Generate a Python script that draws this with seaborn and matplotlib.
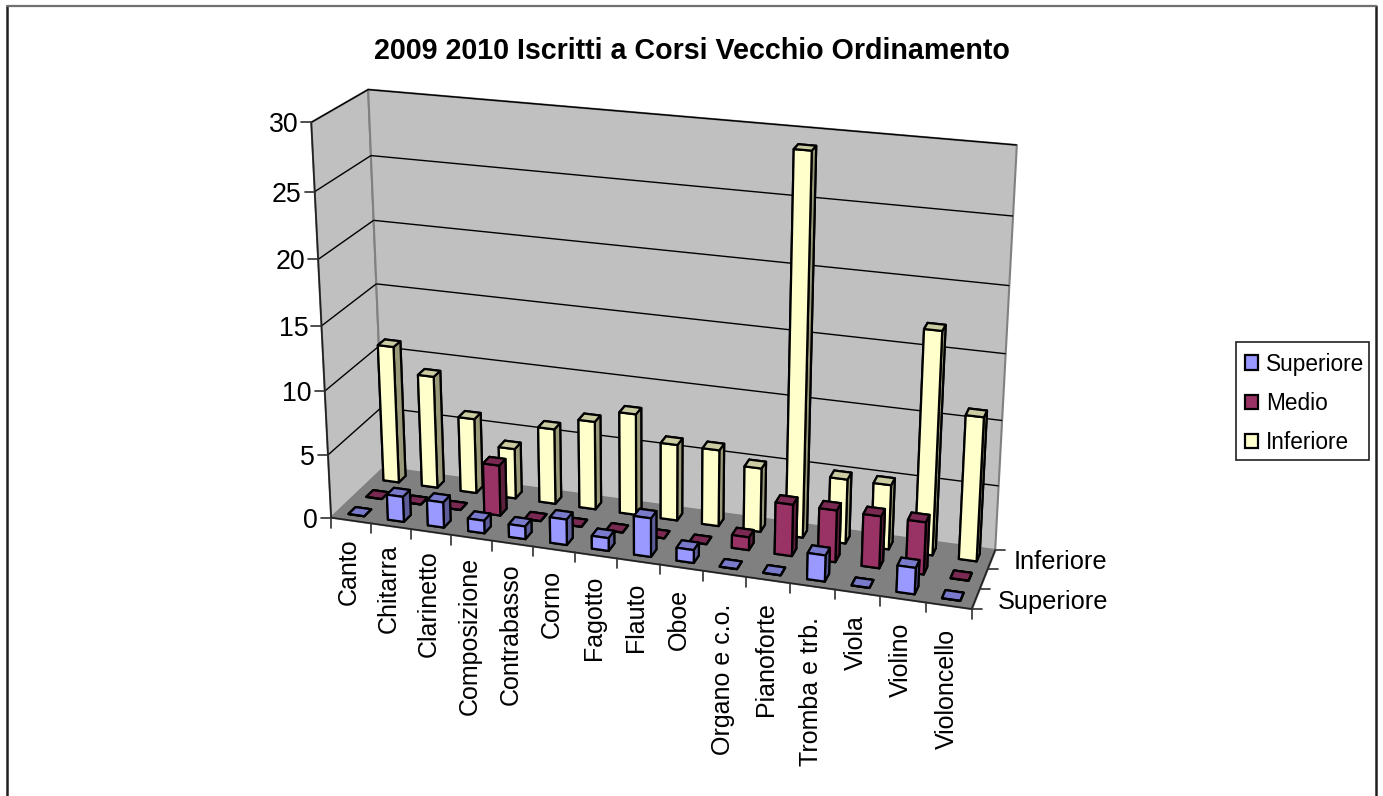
import numpy as np
import matplotlib
matplotlib.use("Agg")
import matplotlib.pyplot as plt
from matplotlib.patches import Patch, Rectangle
from mpl_toolkits.mplot3d.art3d import Poly3DCollection, Line3DCollection
import seaborn as sns

categories = ["Canto", "Chitarra", "Clarinetto", "Composizione", "Contrabasso", "Corno",
              "Fagotto", "Flauto", "Oboe", "Organo e c.o.", "Pianoforte", "Tromba e trb.",
              "Viola", "Violino", "Violoncello"]
superiore = [0, 2, 2, 1, 1, 2, 1, 3, 1, 0, 0, 2, 0, 2, 0]
medio = [0, 0, 0, 4, 0, 0, 0, 0, 0, 1, 4, 4, 4, 4, 0]
inferiore = [11, 9, 6, 4, 6, 7, 8, 6, 6, 5, 29, 5, 5, 17, 11]
series_names = ["Superiore", "Medio", "Inferiore"]
series_values = [superiore, medio, inferiore]
z_ticks = [0, 5, 10, 15, 20, 25, 30]
title = "2009 2010 Iscritti a Corsi Vecchio Ordinamento"

W, H = 1383, 796
sns.set_theme(style="white", font="Liberation Sans")
palette = sns.color_palette(["#9999FF", "#993366", "#FFFFCC"])

# camera fitted to the corners of the reference box (data space -> pixels)
NX, NY, NZ = len(categories), len(series_names), 30
world = np.array([[0, 0, 0], [0, 0, NZ], [0, NY, 0], [0, NY, NZ],
                  [NX, NY, 0], [NX, NY, NZ], [NX, 0, 0]], float)
pix = np.array([[332, 517], [310, 123], [383, 468], [369.5, 89],
                [995, 550], [1016.7, 145], [972, 609]], float)
rows = []
for (X, Y, Z), (u, v) in zip(world, pix):
    rows.append([X, Y, Z, 1, 0, 0, 0, 0, -u * X, -u * Y, -u * Z, -u])
    rows.append([0, 0, 0, 0, X, Y, Z, 1, -v * X, -v * Y, -v * Z, -v])
P = np.linalg.svd(np.array(rows))[2][-1].reshape(3, 4)
if P[2] @ np.array([NX / 2, NY / 2, 15, 1]) < 0:
    P = -P
P = P / (P[2] @ np.array([NX / 2, NY / 2, 15, 1]))


def to_pixels(x, y, z):
    q = P @ np.array([x, y, z, 1.0])
    return q[0] / q[2], q[1] / q[2]


fig = plt.figure(figsize=(W / 100, H / 100), dpi=100, facecolor="white")
ax = fig.add_axes([0, 0, 1, 1], projection="3d", computed_zorder=False)
ax.set_axis_off()
ax.patch.set_visible(False)
ax.apply_aspect = lambda position=None: None


def get_proj():
    pix4 = np.array([
        P[0],
        H * P[2] - P[1],
        P[2] - np.array([0, 0, 0, 0.5]),
        P[2],
    ])
    T = ax.transData.inverted().get_matrix()
    A = np.array([[T[0, 0], T[0, 1], 0, T[0, 2]],
                  [T[1, 0], T[1, 1], 0, T[1, 2]],
                  [0, 0, 1, 0],
                  [0, 0, 0, 1]])
    return A @ pix4


ax.get_proj = get_proj

# walls and floor
GREY = "#808080"
left = [(0, 0, 0), (0, NY, 0), (0, NY, NZ), (0, 0, NZ)]
back = [(0, NY, 0), (NX, NY, 0), (NX, NY, NZ), (0, NY, NZ)]
floor = [(0, 0, 0), (NX, 0, 0), (NX, NY, 0), (0, NY, 0)]
ax.add_collection3d(Poly3DCollection([left, back], facecolors="#C0C0C0", edgecolors=GREY,
                                     linewidths=1.5, zorder=1))
ax.add_collection3d(Poly3DCollection([floor], facecolors=GREY, edgecolors=GREY,
                                     linewidths=1, zorder=2))

# gridlines
grid = []
for z in z_ticks[1:]:
    grid.append([(0, 0, z), (0, NY, z)])
    grid.append([(0, NY, z), (NX, NY, z)])
ax.add_collection3d(Line3DCollection(grid, colors="black", linewidths=1.0, zorder=3))

# axis lines and ticks
axes_lines = [[(0, 0, 0), (0, 0, NZ)], [(0, 0, 0), (NX, 0, 0)], [(NX, 0, 0), (NX, NY, 0)]]
ax.add_collection3d(Line3DCollection(axes_lines, colors="#202020", linewidths=1.2, zorder=4))

tr = fig.transFigure
for z in z_ticks:
    u, v = to_pixels(0, 0, z)
    fig.add_artist(plt.Line2D([(u - 10) / W, u / W], [1 - v / H, 1 - v / H], color="#303030", lw=1.2))
    fig.text((u - 13) / W, 1 - v / H, str(z), ha="right", va="center_baseline", fontsize=19.3, color="black")

for i in range(NX + 1):
    u, v = to_pixels(i, 0, 0)
    fig.add_artist(plt.Line2D([u / W, u / W], [1 - v / H, 1 - (v + 10) / H], color="#303030", lw=1.2))
for i, name in enumerate(categories):
    u, v = to_pixels(i + 0.5, 0, 0)
    nudge = 8 if name.endswith(".") else 0
    fig.text((u - 2) / W, 1 - (v + 18 + 0.4 * i + nudge) / H, name, rotation=90, ha="center", va="top",
             fontsize=18, color="black")

for j in range(NY + 1):
    u, v = to_pixels(NX, j, 0)
    fig.add_artist(plt.Line2D([u / W, (u + 10) / W], [1 - v / H, 1 - v / H], color="#303030", lw=1.2))
for j in (0, 2):
    u, v = to_pixels(NX, j + 0.5, 0)
    fig.text((u + 22) / W, 1 - (v + 0.5) / H, series_names[j], ha="left", va="center_baseline",
             fontsize=18.3, color="black")

# bars: back row first, left to right
GAP = 0.3
SIZE = 0.4
for j in reversed(range(NY)):
    base = np.array(palette[j])
    for i, val in enumerate(series_values[j]):
        top = base * 0.8
        front = base
        side = base * 0.6
        if val == 0:
            cols = [top] * 6
        else:
            cols = [front, top, front, side, side, side]
        ax.bar3d(i + GAP, j + GAP, 0, SIZE, SIZE, val, color=cols, shade=False,
                 edgecolor="black", linewidth=1.6, zorder=10 + (NY - j) * 100 + i)

fig.suptitle(title, x=692 / W, y=1 - 51 / H, ha="center", va="center", fontsize=20.6,
             fontweight="bold", color="black")

handles = [Patch(facecolor=palette[k], edgecolor="black", linewidth=1.6) for k in range(NY)]
fig.add_artist(Rectangle((1236 / W, 1 - 460 / H), 133 / W, 118 / H, transform=tr,
                         facecolor="white", edgecolor="#202020", linewidth=1.2, zorder=5))
leg = fig.legend(handles, series_names, loc="upper left", bbox_to_anchor=(1245 / W, 1 - 352.5 / H),
                 borderaxespad=0, borderpad=0, fontsize=16.3, frameon=False, labelcolor="black",
                 handlelength=0.58, handleheight=0.58, handletextpad=0.34, labelspacing=0.72)
leg.set_zorder(6)

fig.add_artist(plt.Line2D([6.5 / W, 6.5 / W], [0, 1 - 5.5 / H], color="#202020", lw=1.8))
fig.add_artist(plt.Line2D([1376 / W, 1376 / W], [0, 1 - 5.5 / H], color="#202020", lw=1.8))
fig.add_artist(plt.Line2D([6.5 / W, 1376 / W], [1 - 5.5 / H, 1 - 5.5 / H], color="#707070", lw=1.6))

fig.savefig("out.png", dpi=100)
